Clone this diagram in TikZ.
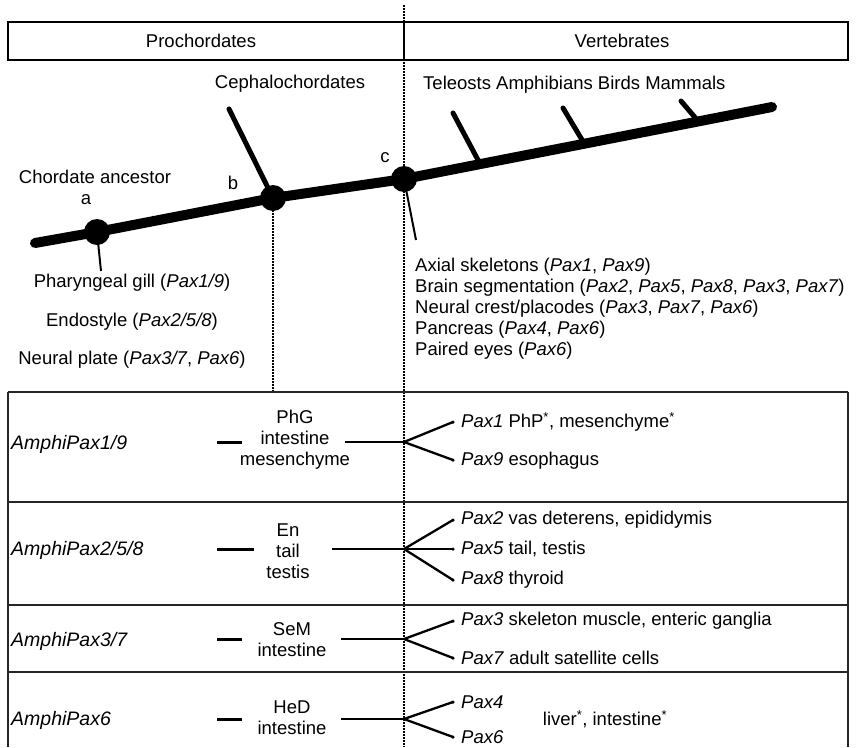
\documentclass[tikz,border=0pt]{standalone}
\usepackage{fontspec}
\setmainfont{Liberation Sans}
\usetikzlibrary{calc}
\begin{document}
\begin{tikzpicture}[x=1pt,y=-1pt,
  txt/.style={font=\fontsize{18.5}{21}\selectfont, inner sep=0pt},
  amphiname/.style={font=\fontsize{19.5}{21}\selectfont\itshape, inner sep=0pt, anchor=west},
  mid/.style={txt, align=center},
  dotln/.style={line width=1.5pt, dash pattern=on 1.5pt off 1.5pt},
  trunk/.style={line width=10pt, line cap=round, line join=round},
  twig/.style={line width=5pt, line cap=round},
  tick/.style={line width=2pt},
  frame/.style={line width=2.8pt, draw=black!85},
  conn/.style={line width=2.3pt},
  shortbar/.style={line width=3pt},
  dotend/.style={circle, fill, inner sep=0pt, minimum size=3.5pt},
  knot/.style={circle, fill, inner sep=0pt, minimum size=26pt},
  hbox/.style={draw, line width=2pt},
]
\useasboundingbox (0,0) rectangle (859,747);

% dotted guide line
\coordinate (dtop) at (404,5);
\coordinate (dbot) at (404,747);
\draw[dotln] (dtop) -- (dbot);

% header box
\coordinate (hb1) at (8,22);
\coordinate (hb2) at (848,60);
\coordinate (hdt) at (404,22);
\coordinate (hdb) at (404,60);
\draw[hbox] (hb1) rectangle (hb2);
\draw[hbox] (hdt) -- (hdb);
\node[txt] (pro) at (201,41) {Prochordates};
\node[txt] (ver) at (622,41) {Vertebrates};

% tree
\coordinate (tl) at (35,243);
\coordinate (tr) at (772,107);
\node[knot] (a) at (97,232) {};
\node[knot] (b) at (273,198) {};
\node[knot] (c) at (404,179) {};
\coordinate (bdown) at (273,392);
\draw[dotln] (b.center) -- (bdown);
\draw[trunk] (tl) -- (a.center) -- (b.center) -- (c.center) -- (tr);

\coordinate (cephtop) at (229,109);
\draw[twig] (b.center) -- (cephtop);
\coordinate (t1) at ($(c)!0.207!(tr)$);
\coordinate (t2) at ($(c)!0.49!(tr)$);
\coordinate (t3) at ($(c)!0.80!(tr)$);
\coordinate (t1top) at (453,113);
\coordinate (t2top) at (563,108);
\coordinate (t3top) at (681,101);
\draw[twig] (t1) -- (t1top);
\draw[twig] (t2) -- (t2top);
\draw[twig] (t3) -- (t3top);

\coordinate (atick) at (101,271);
\coordinate (ctick) at (416,240);
\draw[tick] (a.center) -- (atick);
\draw[tick] (c.center) -- (ctick);

% tree labels
\node[txt] (anc) at (95,177) {Chordate ancestor};
\node[txt] (la) at (86,200) {a};
\node[txt] (lb) at (233,183) {b};
\node[txt] (lc) at (385,158) {c};
\node[txt] (ceph) at (290,84) {Cephalochordates};
\node[txt, anchor=west] (tele) at (423,85) {Teleosts Amphibians Birds Mammals};

\node[txt] (l1) at (132,283) {Pharyngeal gill (\textit{Pax1/9})};
\node[txt] (l2) at (132,322) {Endostyle (\textit{Pax2/5/8})};
\node[txt] (l3) at (132,360) {Neural plate (\textit{Pax3/7}, \textit{Pax6})};

\node[txt, anchor=west] (r1) at (415,267) {Axial skeletons (\textit{Pax1}, \textit{Pax9})};
\node[txt, anchor=west] (r2) at (415,288) {Brain segmentation (\textit{Pax2}, \textit{Pax5}, \textit{Pax8}, \textit{Pax3}, \textit{Pax7})};
\node[txt, anchor=west] (r3) at (415,309) {Neural crest/placodes (\textit{Pax3}, \textit{Pax7}, \textit{Pax6})};
\node[txt, anchor=west] (r4) at (415,330) {Pancreas (\textit{Pax4}, \textit{Pax6})};
\node[txt, anchor=west] (r5) at (415,351) {Paired eyes (\textit{Pax6})};

% table frame
\coordinate (f1l) at (8,392);   \coordinate (f1r) at (848,392);
\coordinate (f2l) at (8,502);   \coordinate (f2r) at (848,502);
\coordinate (f3l) at (8,605);   \coordinate (f3r) at (848,605);
\coordinate (f4l) at (8,672);   \coordinate (f4r) at (848,672);
\coordinate (fbl) at (8,747);   \coordinate (fbr) at (848,747);
\draw[frame] (f1l) -- (f1r);
\draw[frame] (f2l) -- (f2r);
\draw[frame] (f3l) -- (f3r);
\draw[frame] (f4l) -- (f4r);
\draw[frame] (f1l) -- (fbl);
\draw[frame] (f1r) -- (fbr);

% row 1
\node[amphiname] (n1) at (11,444) {AmphiPax1/9};
\node[mid] (m1) at (295,440) {PhG\\intestine\\mesenchyme};
\coordinate (d1a) at (217,442); \coordinate (d1b) at (242,442);
\coordinate (s1) at (345,442); \coordinate (j1) at (404,442);
\draw[shortbar] (d1a) -- (d1b);
\draw[conn] (s1) -- (j1);
\node[dotend] (e1a) at (453,422) {};
\node[dotend] (e1b) at (453,460) {};
\draw[conn] (j1) -- (e1a.center);
\draw[conn] (j1) -- (e1b.center);
\node[txt, anchor=west] (p1) at (461,422) {\textit{Pax1} PhP\textsuperscript{*}, mesenchyme\textsuperscript{*}};
\node[txt, anchor=west] (p9) at (461,461) {\textit{Pax9} esophagus};

% row 2
\node[amphiname] (n2) at (11,550) {AmphiPax2/5/8};
\node[mid] (m2) at (288,551) {En\\tail\\testis};
\coordinate (d2a) at (217,549); \coordinate (d2b) at (254,549);
\coordinate (s2) at (332,549); \coordinate (j2) at (404,549);
\draw[shortbar] (d2a) -- (d2b);
\draw[conn] (s2) -- (j2);
\node[dotend] (e2a) at (453,520) {};
\node[dotend] (e2b) at (453,549) {};
\node[dotend] (e2c) at (453,580) {};
\draw[conn] (j2) -- (e2a.center);
\draw[conn] (j2) -- (e2b.center);
\draw[conn] (j2) -- (e2c.center);
\node[txt, anchor=west] (p2) at (461,520) {\textit{Pax2} vas deterens, epididymis};
\node[txt, anchor=west] (p5) at (461,549) {\textit{Pax5} tail, testis};
\node[txt, anchor=west] (p8) at (461,580) {\textit{Pax8} thyroid};

% row 3
\node[amphiname] (n3) at (11,641) {AmphiPax3/7};
\node[mid] (m3) at (292,640) {SeM\\intestine};
\coordinate (d3a) at (217,639); \coordinate (d3b) at (242,639);
\coordinate (s3) at (341,639); \coordinate (j3) at (404,639);
\draw[shortbar] (d3a) -- (d3b);
\draw[conn] (s3) -- (j3);
\node[dotend] (e3a) at (453,621) {};
\node[dotend] (e3b) at (453,658) {};
\draw[conn] (j3) -- (e3a.center);
\draw[conn] (j3) -- (e3b.center);
\node[txt, anchor=west] (p3) at (461,621) {\textit{Pax3} skeleton muscle, enteric ganglia};
\node[txt, anchor=west] (p7) at (461,658) {\textit{Pax7} adult satellite cells};

% row 4
\node[amphiname] (n4) at (11,720) {AmphiPax6};
\node[mid] (m4) at (292,718) {HeD\\intestine};
\coordinate (d4a) at (217,719); \coordinate (d4b) at (242,719);
\coordinate (s4) at (341,719); \coordinate (j4) at (404,719);
\draw[shortbar] (d4a) -- (d4b);
\draw[conn] (s4) -- (j4);
\node[dotend] (e4a) at (453,702) {};
\node[dotend] (e4b) at (453,737) {};
\draw[conn] (j4) -- (e4a.center);
\draw[conn] (j4) -- (e4b.center);
\node[txt, anchor=west] (p4) at (461,702) {\textit{Pax4}};
\node[txt, anchor=west] (p6) at (461,737) {\textit{Pax6}};
\node[txt] (liv) at (605,719) {liver\textsuperscript{*}, intestine\textsuperscript{*}};
\end{tikzpicture}
\end{document}
